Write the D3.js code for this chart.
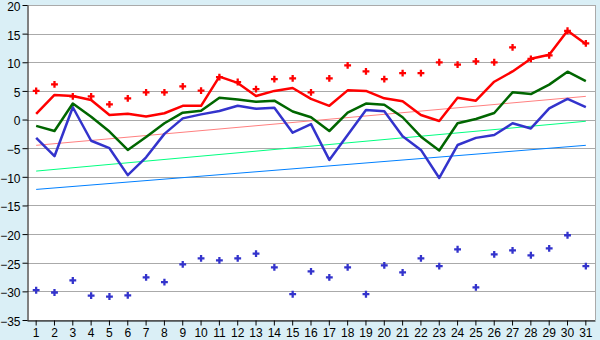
<!DOCTYPE html>
<html>
<head>
<meta charset="utf-8">
<script src="https://cdn.jsdelivr.net/npm/d3@7"></script>
<style>
  body { margin: 0; background: #daeff6; }
  svg { display: block; }
  .tick text { font-family: "Liberation Sans", Arial, sans-serif; font-size: 12px; fill: #000; }
</style>
</head>
<body>
<script>
var days = d3.range(1, 32);

var redLine = [1.0, 4.3, 4.1, 3.4, 0.8, 1.0, 0.55, 1.1, 2.4, 2.4, 7.5, 6.4, 4.1, 5.0, 5.5, 3.6,
  2.4, 5.1, 5.0, 3.7, 3.2, 0.8, -0.25, 3.8, 3.3, 6.6, 8.4, 10.6, 11.3, 15.5, 13.2];
var redDots = [5.0, 6.15, 4.05, 4.05, 2.65, 3.7, 4.75, 4.75, 5.8, 5.05, 7.4, 6.55, 5.3, 7.05, 7.2, 4.75,
  7.2, 9.45, 8.4, 7.05, 8.1, 8.1, 10.0, 9.6, 10.15, 10.0, 12.6, 10.6, 11.2, 15.5, 13.3];
var greenLine = [-1.1, -2.0, 2.8, 0.5, -2.1, -5.3, -3.05, -0.65, 1.2, 1.55, 3.8, 3.5, 3.1, 3.3, 1.4, 0.4,
  -2.0, 1.2, 2.8, 2.6, 0.4, -3.0, -5.4, -0.65, 0.1, 1.15, 4.75, 4.45, 6.1, 8.35, 6.7];
var blueLine = [-3.2, -6.4, 2.15, -3.7, -5.0, -9.7, -6.6, -2.5, 0.2, 0.9, 1.5, 2.4, 1.9, 2.05, -2.3, -0.8,
  -7.05, -2.7, 1.65, 1.45, -2.9, -5.3, -10.2, -4.45, -3.2, -2.7, -0.65, -1.55, 1.95, 3.6, 2.15];
var blueDots = [-29.8, -30.2, -28.1, -30.75, -30.9, -30.7, -27.55, -28.4, -25.3, -24.25, -24.6, -24.25,
  -23.4, -25.8, -30.5, -26.5, -27.55, -25.8, -30.5, -25.45, -26.7, -24.25, -25.6, -22.65, -29.3,
  -23.55, -22.85, -23.7, -22.5, -20.2, -25.6];

// trend lines: value at day 1 and day 31
var trendDays = [1, 31];
var pinkTrend = [-4.5, 4.05];
var greenTrend = [-9.0, -0.3];
var blueTrend = [-12.2, -4.5];

var yTicks = d3.range(-35, 21, 5);

var W = 600, H = 340;
var plotLeft = 27, plotRight = 595, plotTop = 5, plotBottom = 320;

var svg = d3.select("body").append("svg")
  .attr("width", W)
  .attr("height", H);

var x = d3.scaleBand().domain(days).range([plotLeft, plotRight]);
var y = d3.scaleLinear().domain([-35, 20]).range([plotBottom, plotTop]);
function cx(d) { return x(d) + x.bandwidth() / 2; }

svg.append("rect")
  .attr("x", plotLeft).attr("y", plotTop)
  .attr("width", plotRight - plotLeft).attr("height", plotBottom - plotTop)
  .attr("fill", "#fff");

// grid
svg.append("g").selectAll("line")
  .data(yTicks)
  .enter().append("line")
  .attr("x1", plotLeft).attr("x2", plotRight)
  .attr("y1", function(d) { return Math.round(y(d)) + 0.5; })
  .attr("y2", function(d) { return Math.round(y(d)) + 0.5; })
  .attr("stroke", "#aaaaaa");

svg.append("line")
  .attr("x1", plotRight + 0.5).attr("x2", plotRight + 0.5)
  .attr("y1", plotTop).attr("y2", plotBottom)
  .attr("stroke", "#aaaaaa");

function trend(vals, color) {
  svg.append("path")
    .datum(trendDays.map(function(d, i) { return [d, vals[i]]; }))
    .attr("fill", "none")
    .attr("stroke", color)
    .attr("stroke-width", 1)
    .attr("d", d3.line().x(function(p) { return cx(p[0]); }).y(function(p) { return y(p[1]); }));
}
trend(pinkTrend, "#ff8080");
trend(greenTrend, "#00ff80");
trend(blueTrend, "#0080ff");

function series(vals, color) {
  svg.append("path")
    .datum(vals)
    .attr("fill", "none")
    .attr("stroke", color)
    .attr("stroke-width", 2.5)
    .attr("stroke-linejoin", "round")
    .attr("d", d3.line().x(function(v, i) { return cx(days[i]); }).y(function(v) { return y(v); }));
}
series(blueLine, "#3333cc");
series(greenLine, "#006600");
series(redLine, "#ff0000");

function dots(vals, color) {
  svg.append("g").selectAll("path")
    .data(vals)
    .enter().append("path")
    .attr("transform", function(v, i) { return "translate(" + cx(days[i]) + "," + y(v) + ")"; })
    .attr("d", d3.symbol(d3.symbolCross).size(26))
    .attr("fill", color);
}
dots(redDots, "#ff0000");
dots(blueDots, "#3333cc");

// axes
var yAxis = d3.axisLeft(y).tickValues(yTicks).tickSize(5).tickPadding(2).tickSizeOuter(0);
svg.append("g")
  .attr("transform", "translate(" + (plotLeft + 0.5) + ",0)")
  .call(yAxis)
  .call(function(g) {
    g.select(".domain").attr("stroke", "#000");
    g.selectAll(".tick text").attr("dy", "0.45em");
  });

var xAxis = d3.axisBottom(x).tickSize(5).tickPadding(3).tickSizeOuter(0);
svg.append("g")
  .attr("transform", "translate(0," + (plotBottom + 0.5) + ")")
  .call(xAxis)
  .call(function(g) { g.select(".domain").attr("stroke", "#000"); });
</script>
</body>
</html>
